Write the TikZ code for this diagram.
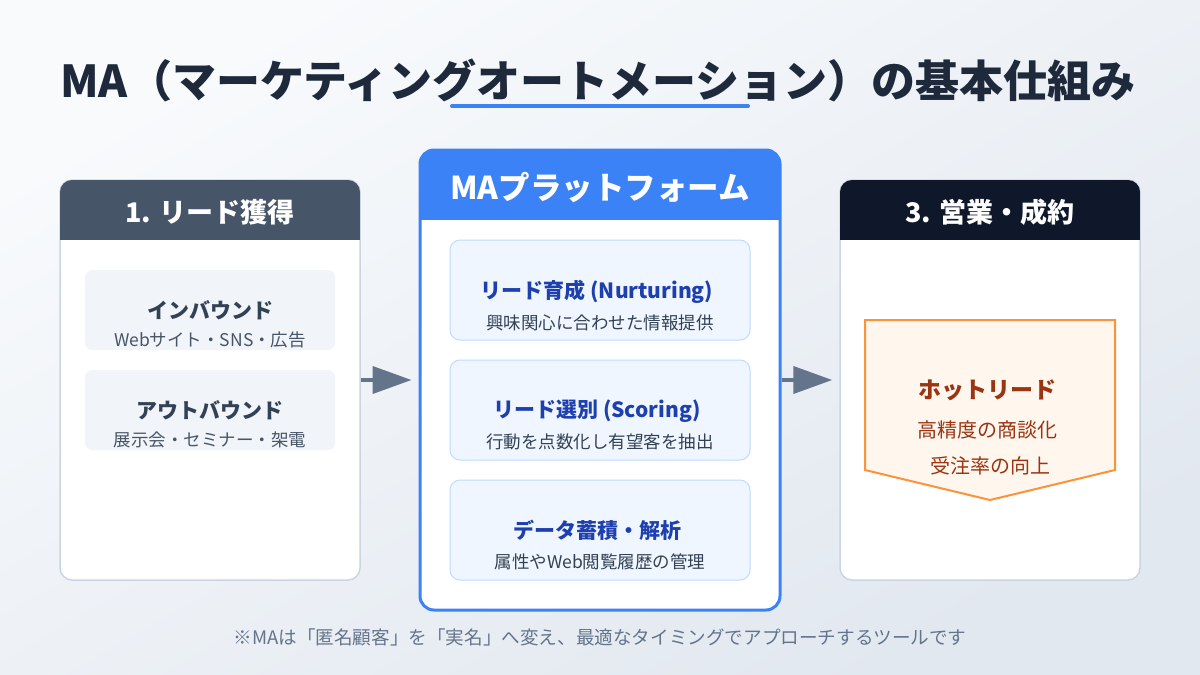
\documentclass[tikz,border=0pt]{standalone}
\usepackage{fontspec}
\setmainfont{Noto Sans CJK JP}
\usetikzlibrary{arrows.meta}
\definecolor{bgA}{HTML}{F8FAFC}
\definecolor{bgB}{HTML}{E2E8F0}
\definecolor{titlec}{HTML}{1E293B}
\definecolor{bluec}{HTML}{3B82F6}
\definecolor{hdrA}{HTML}{475569}
\definecolor{hdrC}{HTML}{0F172A}
\definecolor{cardline}{HTML}{CBD5E1}
\definecolor{inA}{HTML}{F1F5F9}
\definecolor{inB}{HTML}{EFF6FF}
\definecolor{inBline}{HTML}{BFDBFE}
\definecolor{ttA}{HTML}{334155}
\definecolor{stA}{HTML}{475569}
\definecolor{ttB}{HTML}{1E40AF}
\definecolor{stB}{HTML}{334155}
\definecolor{hotfill}{HTML}{FFF7ED}
\definecolor{hotline}{HTML}{FB923C}
\definecolor{hottext}{HTML}{9A3412}
\definecolor{arrowc}{HTML}{64748B}
\definecolor{footc}{HTML}{64748B}
\tikzset{
  card/.style={draw=cardline, line width=1.5pt, fill=white, rounded corners=12pt,
    minimum width=300pt, minimum height=400pt, inner sep=0pt},
  maincard/.style={draw=bluec, line width=3pt, fill=white, rounded corners=14pt,
    minimum width=360pt, minimum height=460pt, inner sep=0pt},
  hdrtext/.style={text=white, font=\fontsize{27}{31}\selectfont\bfseries, inner sep=0pt},
  boxA/.style={fill=inA, rounded corners=7pt, minimum width=250pt, minimum height=80pt, inner sep=0pt},
  boxB/.style={fill=inB, draw=inBline, line width=1pt, rounded corners=10pt, minimum width=300pt, minimum height=100pt, inner sep=0pt},
  titA/.style={text=ttA, font=\fontsize{21}{24}\selectfont\bfseries, inner sep=0pt},
  subA/.style={text=stA, font=\fontsize{17.5}{20}\selectfont, inner sep=0pt},
  titB/.style={text=ttB, font=\fontsize{21}{24}\selectfont\bfseries, inner sep=0pt},
  subB/.style={text=stB, font=\fontsize{17.5}{20}\selectfont, inner sep=0pt},
  flow/.style={draw=arrowc, line width=4pt, -{Triangle[length=39pt,width=27pt]}, shorten >=7pt},
}
\begin{document}
\begin{tikzpicture}[x=1pt,y=-1pt]
\useasboundingbox (0,0) rectangle (1200,675);
\shade[shading=axis, top color=bgA, bottom color=bgB, shading angle=30] (0,0) rectangle (1200,675);

% title
\node[text=titlec, font=\fontsize{44}{50}\selectfont\bfseries, inner sep=0pt] (title) at (598,80) {MA（マーケティングオートメーション）の基本仕組み};
\coordinate (ulA) at (452,106);
\coordinate (ulB) at (748,106);
\draw[bluec, line width=4pt, line cap=round] (ulA) -- (ulB);

% left card
\node[card] (c1) at (210,380) {};
\begin{scope}
  \clip[rounded corners=12pt] (60,180) rectangle (360,580);
  \fill[hdrA] (60,180) rectangle (360,240);
\end{scope}
\node[hdrtext] (h1) at (210,212) {1. リード獲得};
\node[boxA] (l1) at (210,310) {};
\node[titA] (l1t) at (210,310) {インバウンド};
\node[subA] (l1s) at (210,340) {Webサイト・SNS・広告};
\node[boxA] (l2) at (210,410) {};
\node[titA] (l2t) at (210,410) {アウトバウンド};
\node[subA] (l2s) at (210,440) {展示会・セミナー・架電};

% middle card
\node[maincard] (c2) at (600,380) {};
\begin{scope}
  \clip[rounded corners=14pt] (420,150) rectangle (780,610);
  \fill[bluec] (420,150) rectangle (780,220);
\end{scope}
\node[hdrtext, font=\fontsize{31.5}{36}\selectfont\bfseries] (h2) at (600,187) {MAプラットフォーム};
\node[boxB] (m1) at (600,290) {};
\node[titB] (m1t) at (597,292) {リード育成 (Nurturing)};
\node[subB] (m1s) at (600,323) {興味関心に合わせた情報提供};
\node[boxB] (m2) at (600,410) {};
\node[titB] (m2t) at (597,411) {リード選別 (Scoring)};
\node[subB] (m2s) at (600,442) {行動を点数化し有望客を抽出};
\node[boxB] (m3) at (600,530) {};
\node[titB] (m3t) at (597,530) {データ蓄積・解析};
\node[subB] (m3s) at (600,562) {属性やWeb閲覧履歴の管理};

% right card
\node[card] (c3) at (990,380) {};
\begin{scope}
  \clip[rounded corners=12pt] (840,180) rectangle (1140,580);
  \fill[hdrC] (840,180) rectangle (1140,240);
\end{scope}
\node[hdrtext] (h3) at (990,212) {3. 営業・成約};
\draw[fill=hotfill, draw=hotline, line width=2pt] (865,320) -- (1115,320) -- (1115,470) -- (990,500) -- (865,470) -- cycle;
\node[text=hottext, font=\fontsize{23}{26}\selectfont\bfseries, inner sep=0pt] (hot) at (987,390) {ホットリード};
\node[text=hottext, font=\fontsize{20}{23}\selectfont, inner sep=0pt] (hot1) at (987,430) {高精度の商談化};
\node[text=hottext, font=\fontsize{20}{23}\selectfont, inner sep=0pt] (hot2) at (990,466) {受注率の向上};

% arrows
\draw[flow] (c1.east) -- (c2.west);
\draw[flow] (c2.east) -- (c3.west);

% footer
\node[text=footc, font=\fontsize{18.6}{21}\selectfont, inner sep=0pt] (foot) at (600,637) {※MAは「匿名顧客」を「実名」へ変え、最適なタイミングでアプローチするツールです};
\end{tikzpicture}
\end{document}
